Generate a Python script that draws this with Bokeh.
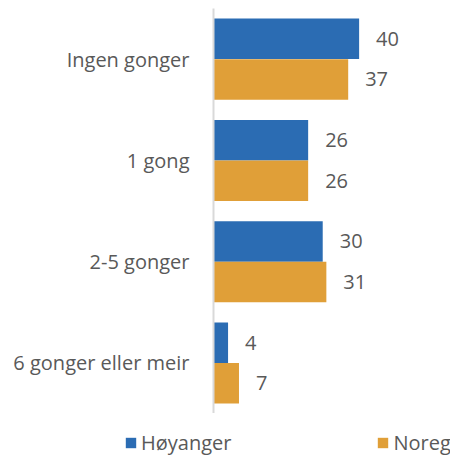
from bokeh.plotting import figure
from bokeh.layouts import column, row
from bokeh.models import ColumnDataSource, Range1d, FactorRange, Legend, LegendItem, LabelSet
from bokeh.transform import dodge
from bokeh.core.properties import value
from bokeh.embed import file_html
from bokeh.resources import INLINE

categories = ["Ingen gonger", "1 gong", "2-5 gonger", "6 gonger eller meir"]
hoyanger = [40, 26, 30, 4]
noreg = [37, 26, 31, 7]
series_names = ["Høyanger", "Noreg"]

FONT = "Open Sans"
TXT = "#595959"
BLUE = "#2B6CB3"
ORANGE = "#E09F38"

src = ColumnDataSource(dict(
    cat=categories, h=hoyanger, n=noreg,
    hl=[str(v) for v in hoyanger], nl=[str(v) for v in noreg],
))

y_range = FactorRange(factors=list(reversed(categories)), range_padding=0)
p = figure(width=450, height=413, y_range=y_range, x_range=Range1d(0, 65.1),
           output_backend="svg", toolbar_location=None,
           min_border_left=213, min_border_right=0, min_border_top=8, min_border_bottom=0)

r1 = p.hbar(y=dodge("cat", 0.2, range=p.y_range), right="h", height=0.4, left=0,
            source=src, fill_color=BLUE, line_color=None)
r2 = p.hbar(y=dodge("cat", -0.2, range=p.y_range), right="n", height=0.4, left=0,
            source=src, fill_color=ORANGE, line_color=None)

for col, lab, off in (("h", "hl", 0.2), ("n", "nl", -0.2)):
    ls = LabelSet(x=col, y=dodge("cat", off, range=p.y_range), text=lab, source=src,
                  x_offset=17, text_baseline="middle", text_font=value(FONT),
                  text_font_size="20px", text_color=TXT)
    p.add_layout(ls)

p.xaxis.visible = False
p.xgrid.visible = False
p.ygrid.visible = False
p.outline_line_color = None
p.yaxis.axis_line_color = "#D9D9D9"
p.yaxis.axis_line_width = 2
p.yaxis.major_tick_line_color = None
p.yaxis.minor_tick_line_color = None
p.yaxis.major_label_standoff = 18
p.yaxis.major_label_text_font = FONT
p.yaxis.major_label_text_font_size = "20px"
p.yaxis.major_label_text_color = TXT

# legend strip (zero-height bars: only the legend swatches show)
p2 = figure(width=450, height=44, x_range=Range1d(0, 100), y_range=FactorRange(factors=categories),
            output_backend="svg", toolbar_location=None,
            min_border_left=0, min_border_right=0, min_border_top=0, min_border_bottom=0)
p2.axis.visible = False
p2.grid.visible = False
p2.outline_line_color = None
lr1 = p2.hbar(y="cat", right="h", height=0, source=src, fill_color=BLUE, line_color=None)
lr2 = p2.hbar(y="cat", right="n", height=0, source=src, fill_color=ORANGE, line_color=None)

legend = Legend(items=[LegendItem(label=series_names[0], renderers=[lr1]),
                       LegendItem(label=series_names[1], renderers=[lr2])],
                orientation="horizontal", location=(124, 1),
                border_line_color=None, background_fill_alpha=0,
                padding=0, margin=0, spacing=145,
                glyph_width=13, glyph_height=13, label_standoff=4,
                label_text_font=FONT, label_text_font_size="20px",
                label_text_color=TXT)
p2.add_layout(legend, "center")

layout = column(row(p), row(p2), spacing=0)
open("out.html", "w").write(file_html(layout, INLINE))
